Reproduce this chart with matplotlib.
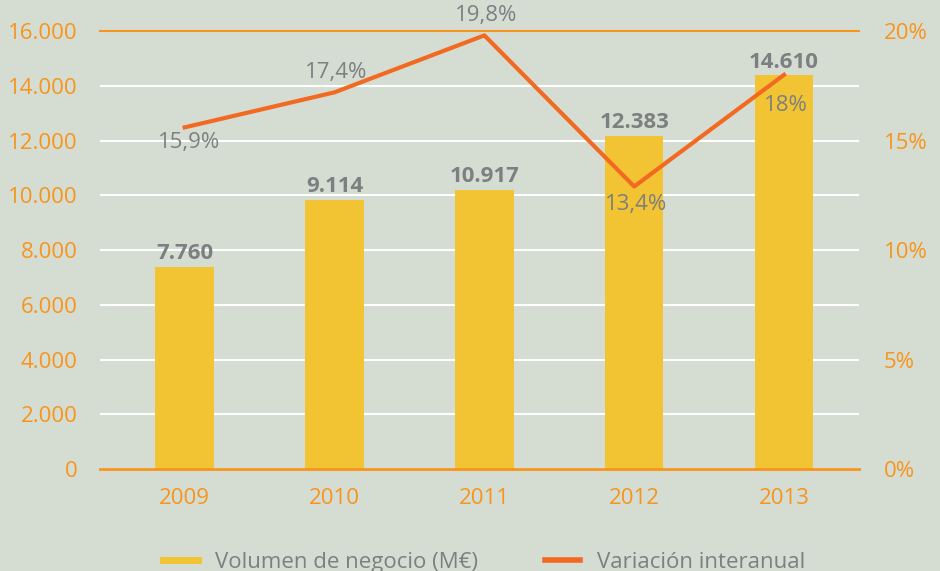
import matplotlib.pyplot as plt
from matplotlib.lines import Line2D

# datos
years = ['2009', '2010', '2011', '2012', '2013']
volumen = [7380, 9830, 10190, 12160, 14380]          # altura de las barras tal como se dibujan
volumen_labels = ['7.760', '9.114', '10.917', '12.383', '14.610']
variacion = [15.6, 17.2, 19.8, 12.9, 18.0]            # posicion de la linea (%)
variacion_labels = ['15,9%', '17,4%', '19,8%', '13,4%', '18%']
label_offsets = [-10, 15, 15, -12, -21]               # desplazamiento vertical (pt)

bg = '#d5ddd2'
yellow = '#f2c433'
orange_line = '#f26a21'
orange_txt = '#f7941d'
grey = '#7d7f80'
fs = 16

plt.rcParams['font.family'] = ['Open Sans', 'DejaVu Sans']

fig, ax = plt.subplots(figsize=(9.4, 5.71), dpi=100)
fig.patch.set_facecolor(bg)
ax.set_facecolor(bg)
fig.subplots_adjust(left=0.1064, right=0.9138, top=0.9457, bottom=0.1786)

x = list(range(len(years)))
ax.bar(x, volumen, width=0.39, color=yellow, zorder=2)
ax.set_ylim(0, 16000)
ax.set_xlim(-0.565, 4.5)
ax.set_yticks(range(0, 16001, 2000))
ax.set_yticklabels(['0'] + [f'{v:,}'.replace(',', '.') for v in range(2000, 16001, 2000)])
ax.set_xticks(x)
ax.set_xticklabels(years)
ax.grid(axis='y', color='white', lw=1.5, zorder=0)
ax.set_axisbelow(True)
ax.tick_params(length=0, labelsize=fs, colors=orange_txt)
ax.tick_params(axis='y', pad=16)
ax.tick_params(axis='x', pad=14)
for s in ['left', 'right']:
    ax.spines[s].set_visible(False)
ax.spines['top'].set_color(orange_txt)
ax.spines['top'].set_linewidth(1.5)
ax.spines['bottom'].set_color(orange_txt)
ax.spines['bottom'].set_linewidth(2)

for xi, h, lab in zip(x, volumen, volumen_labels):
    ax.annotate(lab, (xi, h), xytext=(0, 5.5), textcoords='offset points',
                ha='center', va='baseline', fontsize=fs, fontweight='bold', color=grey)

ax2 = ax.twinx()
ax2.plot(x, variacion, color=orange_line, lw=3, zorder=3)
ax2.set_ylim(0, 20)
ax2.set_yticks([0, 5, 10, 15, 20])
ax2.set_yticklabels([f'{v}%' for v in [0, 5, 10, 15, 20]])
ax2.tick_params(length=0, labelsize=fs, colors=orange_txt, pad=18)
for s in ['left', 'right', 'top', 'bottom']:
    ax2.spines[s].set_visible(False)

for xi, v, lab, off in zip(x, variacion, variacion_labels, label_offsets):
    ax2.annotate(lab, (xi, v), xytext=(3 if xi == 0 else 1, off - 1), textcoords='offset points',
                 ha='center', va='center', fontsize=fs, color=grey)

handles = [Line2D([], [], color=yellow, lw=5), Line2D([], [], color=orange_line, lw=4)]
fig.legend(handles, ['Volumen de negocio (M€)', 'Variación interanual'],
           loc='lower center', bbox_to_anchor=(0.515, -0.038), ncol=2, frameon=False,
           fontsize=fs, labelcolor=grey, handlelength=1.6, handletextpad=0.75,
           columnspacing=3.0)

fig.savefig('out.png', dpi=100, facecolor=bg)
